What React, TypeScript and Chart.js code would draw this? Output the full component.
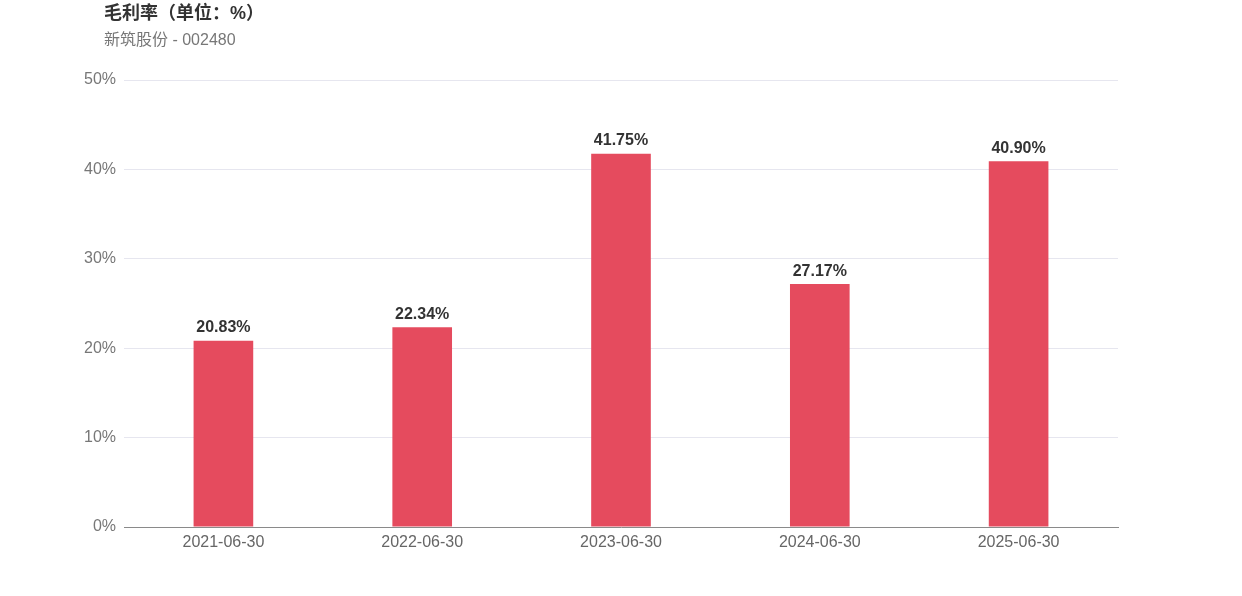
import React, { useEffect, useRef } from "react";
import { Chart, registerables } from "chart.js";

Chart.register(...registerables);

const categories = ["2021-06-30", "2022-06-30", "2023-06-30", "2024-06-30", "2025-06-30"];
const grossMargin = [20.83, 22.34, 41.75, 27.17, 40.9];
const yTicks = [0, 10, 20, 30, 40, 50];
const titleText = "毛利率（单位：%）";
const subtitleText = "新筑股份 - 002480";

const FONT = "'Liberation Sans', Arial, 'Noto Sans CJK SC', sans-serif";

const valueLabels = {
  id: "valueLabels",
  afterDatasetsDraw(chart: any) {
    const ctx = chart.ctx;
    const meta = chart.getDatasetMeta(0);
    ctx.save();
    ctx.font = `bold 16px ${FONT}`;
    ctx.fillStyle = "#333333";
    ctx.textAlign = "center";
    ctx.textBaseline = "bottom";
    meta.data.forEach((bar: any, i: number) => {
      ctx.fillText(grossMargin[i].toFixed(2) + "%", bar.x, bar.y - 5);
    });
    ctx.restore();
  },
};

export default function App() {
  const ref = useRef<HTMLCanvasElement>(null);
  useEffect(() => {
    if (!ref.current) return;
    const chart = new Chart(ref.current, {
      type: "bar",
      data: {
        labels: categories,
        datasets: [
          {
            data: grossMargin,
            backgroundColor: "#e54b5e",
            categoryPercentage: 1,
            barPercentage: 0.3,
          },
        ],
      },
      options: {
        animation: false,
        responsive: false,
        maintainAspectRatio: false,
        layout: { padding: { left: 0, right: 124, top: 80, bottom: 0 } },
        plugins: { legend: { display: false }, tooltip: { enabled: false } },
        scales: {
          x: {
            grid: { display: false, drawTicks: false },
            border: { display: true, color: "#8a8a8a", width: 1 },
            ticks: { color: "#666666", font: { family: FONT, size: 16 }, padding: 6 },
            afterFit(scale: any) {
              scale.height = 69;
            },
          },
          y: {
            min: 0,
            max: 50,
            afterBuildTicks(scale: any) {
              scale.ticks = yTicks.map((v) => ({ value: v }));
            },
            grid: { color: "#e6e6ef", drawTicks: false },
            border: { display: false },
            ticks: {
              color: "#777777",
              font: { family: FONT, size: 16 },
              padding: 8,
              callback: (v: any) => v + "%",
            },
            afterFit(scale: any) {
              scale.width = 124;
            },
          },
        },
      },
      plugins: [valueLabels],
    });
    return () => chart.destroy();
  }, []);

  return (
    <div style={{ position: "fixed", left: 0, top: 0, width: 1242, height: 596, background: "#fff" }}>
      <canvas ref={ref} width={1242} height={596} style={{ position: "absolute", left: 0, top: 0 }} />
      <div
        style={{
          position: "absolute",
          left: 104,
          top: 2,
          fontFamily: FONT,
          fontWeight: "bold",
          fontSize: 18,
          color: "#333333",
          lineHeight: "22px",
          whiteSpace: "nowrap",
        }}
      >
        {titleText}
      </div>
      <div
        style={{
          position: "absolute",
          left: 104,
          top: 30,
          fontFamily: FONT,
          fontSize: 16,
          color: "#777777",
          lineHeight: "20px",
          whiteSpace: "nowrap",
        }}
      >
        {subtitleText}
      </div>
    </div>
  );
}
